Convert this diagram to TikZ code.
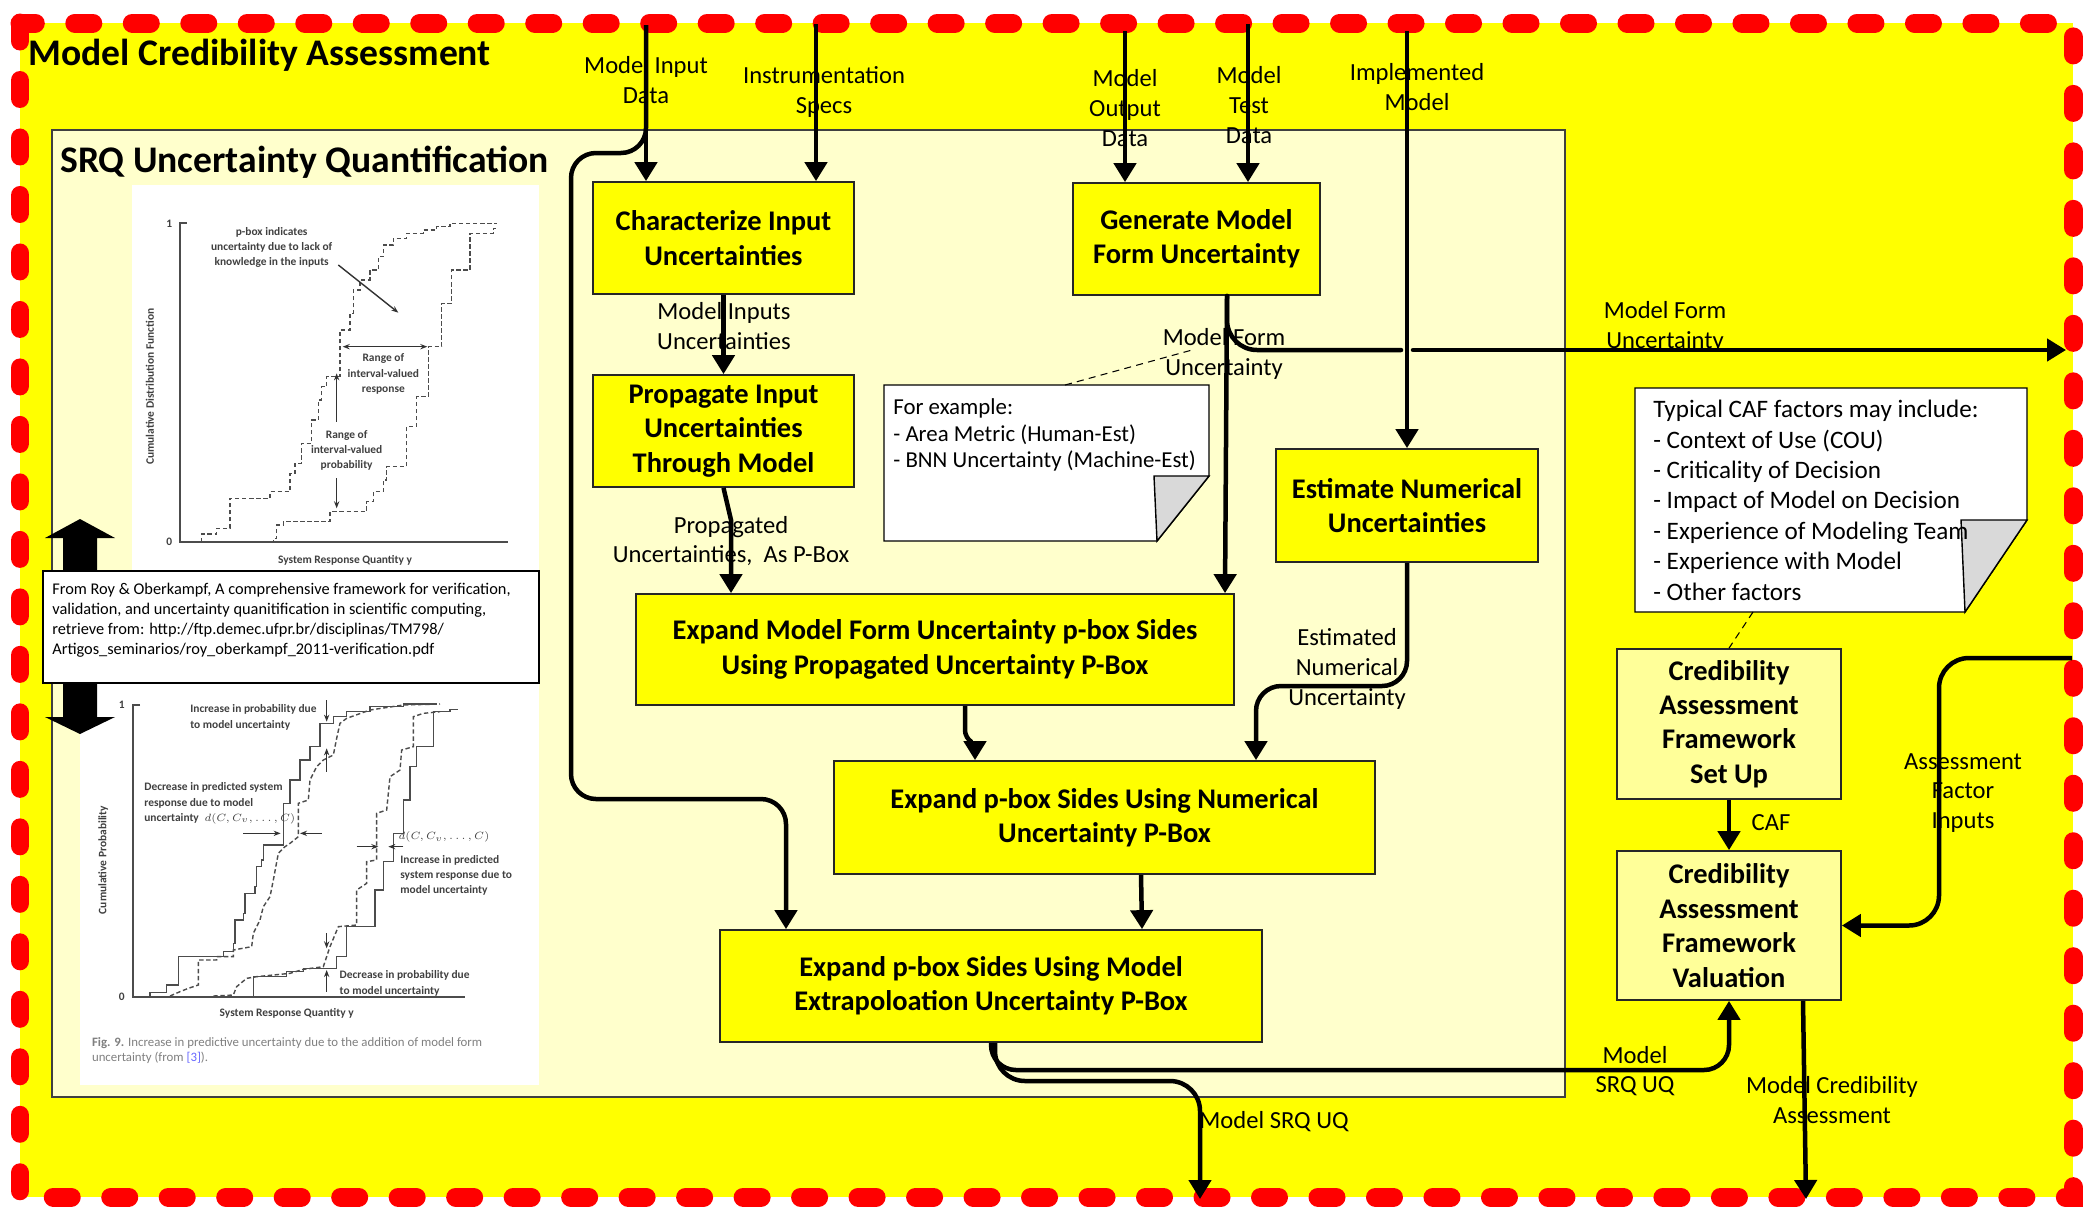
\documentclass[tikz,border=0pt]{standalone}
\usepackage{fontspec}
\setmainfont{Carlito}
\usetikzlibrary{arrows.meta}
\definecolor{boxyellow}{RGB}{255,255,0}
\definecolor{paleyellow}{RGB}{255,255,204}
\definecolor{cafyellow}{RGB}{255,255,153}
\definecolor{framered}{RGB}{255,0,0}
\definecolor{foldgray}{RGB}{217,217,217}
\tikzset{
  frame/.style={framered,line width=0.38cm,dash pattern=on 0.36cm off 0.79cm,line cap=round},
  flow/.style={line width=0.09cm,-{Triangle[length=0.38cm,width=0.44cm]}},
  wire/.style={line width=0.09cm,line cap=round},
  pbox/.style={draw=black!85,line width=1pt,fill=boxyellow,align=center,inner sep=0pt,font=\fontsize{16.2}{19.6}\selectfont\bfseries},
  cafbox/.style={pbox,fill=cafyellow},
  lbl/.style={align=center,inner sep=0pt,font=\fontsize{14}{17}\selectfont},
  note/.style={draw=black,line width=0.8pt,fill=white},
  notetxt/.style={align=left,inner sep=0pt,anchor=north west},
  callout/.style={line width=0.6pt,dash pattern=on 4pt off 3pt},
  title/.style={anchor=base west,inner sep=0pt,font=\fontsize{21.4}{25}\selectfont\bfseries},
  gtxt/.style={align=center,inner sep=0pt,text=black!75,font=\fontsize{6.5}{8.6}\selectfont\bfseries},
  gaxis/.style={black!70,line width=1pt},
  gcurve/.style={black!70,line width=0.8pt},
  gdash/.style={gcurve,dash pattern=on 2.5pt off 1.5pt},
  garrow/.style={black!80,line width=0.8pt,-{Stealth[length=4pt]}}
}
\begin{document}
\begin{tikzpicture}[x=0.02cm,y=-0.02cm]
\useasboundingbox (0,0) rectangle (2088,1211);
\fill[boxyellow] (20,23) rectangle (2073,1197);
\draw[frame] (20,23) rectangle (2073,1197);
\node[title] (mcaTitle) at (28,65) {Model Credibility Assessment};
\draw[draw=black!75,line width=1pt,fill=paleyellow] (52,130) rectangle (1565,1097);
\node[title] (srqTitle) at (60,172) {SRQ Uncertainty Quantification};

% p-box figure (top)
\fill[white] (132,185) rectangle (539,571);
\begin{scope}[shift={(130,180)},scale=1/3]
  \draw[gaxis] (170,130) -- (150,130) -- (150,1085) -- (1135,1085);
  \node[gtxt] (g1one) at (118,130) {1}; \node[gtxt] (g1zero) at (118,1085) {0};
  \draw[gdash] plot coordinates {(150,1085) (215,1085) (215,1062) (260,1062) (260,1045) (300,1045) (300,955) (420,955) (420,935) (480,935) (480,880) (495,880) (495,850) (515,850) (515,790) (545,790) (545,720) (565,720) (565,660) (575,660) (575,620) (590,620) (590,590) (630,590) (630,450) (660,450) (660,400) (670,400) (670,330) (690,330) (690,300) (720,300) (720,270) (745,270) (745,230) (760,230) (760,195) (790,195) (790,175) (830,175) (830,160) (880,160) (880,150) (920,150) (920,140) (960,140) (960,130) (1100,130)};
  \draw[gdash] plot coordinates {(360,1085) (430,1085) (430,1075) (440,1075) (440,1035) (460,1035) (460,1025) (600,1025) (600,995) (710,995) (710,965) (730,965) (730,935) (760,935) (760,900) (770,900) (770,860) (830,860) (830,740) (860,740) (860,650) (895,650) (895,500) (935,500) (935,370) (965,370) (965,270) (1020,270) (1020,160) (1090,160) (1090,145) (1100,145)};
  \draw[garrow] (625,255) -- (805,398);
  \draw[garrow,{Stealth[length=4pt]}-{Stealth[length=4pt]}] (638,500) -- (892,500);
  \draw[garrow] (620,725) -- (620,580); \draw[garrow] (620,895) -- (620,985);
  \node[gtxt] (g1a) at (425,203) {p-box indicates\\uncertainty due to lack of\\knowledge in the inputs};
  \node[gtxt] (g1b) at (760,582) {Range of\\interval-valued\\response};
  \node[gtxt] (g1c) at (650,812) {Range of\\interval-valued\\probability};
  \node[gtxt,rotate=90] (g1d) at (60,620) {Cumulative Distribution Function};
  \node[gtxt] (g1e) at (645,1140) {System Response Quantity y};
\end{scope}

% p-box figure (bottom)
\fill[white] (80,683) rectangle (539,1085);
\begin{scope}[shift={(70,680)},scale=1/3]
  \draw[gaxis] (210,75) -- (190,75) -- (190,950) -- (1185,950);
  \node[gtxt] (g2one) at (155,75) {1}; \node[gtxt] (g2zero) at (155,950) {0};
  \draw[gcurve] plot coordinates {(240,948) (240,938) (290,938) (290,915) (325,915) (325,830) (460,830) (460,815) (490,815) (490,790) (495,790) (495,720) (520,720) (520,700) (525,700) (525,640) (555,640) (555,620) (560,620) (560,560) (575,560) (575,540) (580,540) (580,495) (640,495) (640,370) (660,370) (660,300) (690,300) (690,240) (720,240) (720,200) (750,200) (750,130) (790,130) (790,110) (830,110) (830,95) (900,95) (900,80) (1000,80) (1000,72) (1100,72)};
  \draw[gdash] plot coordinates {(300,948) (330,935) (355,925) (385,915) (385,840) (440,840) (440,830) (490,830) (490,810) (545,800) (550,760) (570,720) (580,680) (600,650) (610,600) (625,520) (645,500) (660,490) (685,470) (685,370) (715,360) (720,300) (740,260) (760,240) (790,225) (800,175) (810,130) (830,115) (900,90) (1000,75) (1110,72)};
  \draw[gcurve] plot coordinates {(550,948) (550,890) (650,890) (650,875) (700,875) (700,865) (800,865) (800,830) (830,830) (830,740) (915,740) (915,630) (940,630) (940,545) (970,545) (970,460) (1000,460) (1000,360) (1020,360) (1020,260) (1040,260) (1040,200) (1090,200) (1090,95) (1140,95) (1140,88) (1165,88)};
  \draw[gdash] plot coordinates {(430,948) (490,945) (500,920) (530,895) (560,890) (660,880) (700,868) (760,860) (780,800) (805,740) (860,735) (860,630) (890,610) (890,545) (920,540) (920,400) (950,390) (960,290) (990,270) (995,210) (1030,200) (1030,110) (1060,100) (1110,95)};
  \draw[garrow] (770,60) -- (770,125); \draw[garrow] (770,275) -- (770,205);
  \draw[garrow] (520,460) -- (632,460); \draw[garrow] (755,460) -- (690,460);
  \draw[garrow] (860,500) -- (925,500); \draw[garrow] (1000,500) -- (955,500);
  \draw[garrow] (770,760) -- (770,805); \draw[garrow] (770,935) -- (770,870);
  \node[gtxt,anchor=west,align=left] (g2a) at (360,112) {Increase in probability due\\to model uncertainty};
  \node[gtxt,anchor=west,align=left] (g2b) at (222,370) {Decrease in predicted system\\response due to model\\uncertainty\enspace$d(C,C_v,\ldots,C)$};
  \node[gtxt,anchor=west] (g2c) at (985,470) {$d(C,C_v,\ldots,C)$};
  \node[gtxt,anchor=west,align=left] (g2d) at (990,585) {Increase in predicted\\system response due to\\model uncertainty};
  \node[gtxt,anchor=west,align=left] (g2e) at (808,910) {Decrease in probability due\\to model uncertainty};
  \node[gtxt,rotate=90] (g2f) at (100,540) {Cumulative Probability};
  \node[gtxt] (g2g) at (650,1000) {System Response Quantity y};
  \node[gtxt,anchor=north west,align=left,text=black!50,font=\fontsize{7.3}{8.6}\selectfont] (g2cap) at (65,1072) {\textbf{Fig. 9.} Increase in predictive uncertainty due to the addition of model form\\uncertainty (from \textcolor{blue!60}{[3]}).};
\end{scope}

\fill (80,519) -- (115,538) -- (97,538) -- (97,717) -- (115,717) -- (80,734) -- (45,717) -- (63,717) -- (63,538) -- (45,538) -- cycle;
\draw[note] (43,571) rectangle (539,683);
\node[notetxt,font=\fontsize{9.3}{11.3}\selectfont] (cite) at (52,583) {From Roy \& Oberkampf, A comprehensive framework for verification,\\validation, and uncertainty quanitification in scientific computing,\\retrieve from: http://ftp.demec.ufpr.br/disciplinas/TM798/\\Artigos\_seminarios/roy\_oberkampf\_2011-verification.pdf};

% process boxes
\node[pbox,minimum width=5.22cm,minimum height=2.24cm] (ciu) at (723.5,238) {Characterize Input\\Uncertainties};
\node[pbox,minimum width=5.22cm,minimum height=2.24cm] (piu) at (723.5,431) {Propagate Input\\Uncertainties\\Through Model};
\node[pbox,minimum width=4.94cm,minimum height=2.24cm] (gmf) at (1196.5,239) {Generate Model\\Form Uncertainty};
\node[pbox,minimum width=5.24cm,minimum height=2.26cm] (enu) at (1407,505.5) {Estimate Numerical\\Uncertainties};
\node[pbox,minimum width=11.96cm,minimum height=2.22cm] (emf) at (935,649.5) {Expand Model Form Uncertainty p-box Sides\\Using Propagated Uncertainty P-Box};
\node[pbox,minimum width=10.82cm,minimum height=2.26cm] (epn) at (1104.5,817.5) {Expand p-box Sides Using Numerical\\Uncertainty P-Box};
\node[pbox,minimum width=10.84cm,minimum height=2.24cm] (epm) at (991,986) {Expand p-box Sides Using Model\\Extrapoloation Uncertainty P-Box};
\node[cafbox,minimum width=4.48cm,minimum height=3cm] (csu) at (1729,724) {Credibility\\Assessment\\Framework\\Set Up};
\node[cafbox,minimum width=4.48cm,minimum height=2.98cm] (cva) at (1729,925.5) {Credibility\\Assessment\\Framework\\Valuation};

% notes
\draw[note] (884,385) -- (1209,385) -- (1209,476) -- (1157,541) -- (884,541) -- cycle;
\draw[note,fill=foldgray] (1154,476) -- (1209,476) -- (1157,541) -- cycle;
\node[notetxt,font=\fontsize{13}{15.3}\selectfont] (exNote) at (893,398) {For example:\\- Area Metric (Human-Est)\\- BNN Uncertainty (Machine-Est)};
\draw[note] (1635,388) -- (2027,388) -- (2027,520) -- (1965,612) -- (1635,612) -- cycle;
\draw[note,fill=foldgray] (1961,520) -- (2027,520) -- (1965,612) -- cycle;
\node[notetxt,font=\fontsize{14.3}{17.3}\selectfont] (cafNote) at (1653,400) {Typical CAF factors may include:\\- Context of Use (COU)\\- Criticality of Decision\\- Impact of Model on Decision\\- Experience of Modeling Team\\- Experience with Model\\- Other factors};

% free ends
\coordinate (inData) at (646,25);
\coordinate (inSpecs) at (816,24);
\coordinate (outData) at (1125,31);
\coordinate (testData) at (1248,24);
\coordinate (implModel) at (1407,31);
\coordinate (mfOut) at (2066,350);
\coordinate (factorIn) at (2072,658);
\coordinate (srqOut) at (1200,1199);
\coordinate (mcaOut) at (1806,1199);
\coordinate (exTop) at (1065,385);
\coordinate (mfTip) at (1192,350);
\coordinate (cafTip) at (1753,612);

% connectors
\draw[flow] (inData) -- (inData |- ciu.north);
\draw[flow,rounded corners=0.5cm] (inData) -- (646,153) -- (571,153) -- (571,799) -- (786,799) -- (epm.north -| 786,0);
\draw[flow] (inSpecs) -- (inSpecs |- ciu.north);
\draw[flow] (ciu) -- (piu);
\draw[flow] (piu.south) -- (731,520) -- (emf.north -| 731,0);
\draw[flow] (outData) -- (outData |- gmf.north);
\draw[flow] (testData) -- (testData |- gmf.north);
\draw[flow] (implModel) -- (enu.north);
\draw[wire,rounded corners=0.6cm] (gmf.south -| 1227,0) |- (1401,350);
\draw[flow,line cap=round] (1413,350) -- (mfOut);
\draw[flow] (gmf.south -| 1227,0) -- (emf.north -| 1225,0);
\draw[flow,rounded corners=0.5cm] (enu.south) |- (1256,686) -- (epn.north -| 1256,0);
\draw[flow,rounded corners=0.15cm] (emf.south -| 965,0) -- (965,738) -- (975,744) -- (epn.north -| 975,0);
\draw[flow] (epn.south -| 1141,0) -- (epm.north -| 1142,0);
\draw[flow,rounded corners=0.5cm] (epm.south -| 991,0) |- (1729,1070) -- (cva.south);
\draw[flow,rounded corners=0.6cm] (epm.south -| 995,0) |- (1200,1081) -- (srqOut);
\draw[flow] (csu) -- (cva);
\draw[flow,rounded corners=0.6cm] (factorIn) -| (1939,925.5) -- (cva.east);
\draw[flow] (cva.south -| 1803,0) -- (mcaOut);
\draw[callout] (exTop) -- (mfTip);
\draw[callout] (cafTip) -- (csu.north);

% labels
\node[lbl] (inDataLbl) at (646,80) {Model Input\\Data};
\node[lbl] (specsLbl) at (824,92) {Instrumentation\\Specs};
\node[lbl] (outDataLbl) at (1125,108) {Model\\Output\\Data};
\node[lbl] (testDataLbl) at (1249,105) {Model\\Test\\Data};
\node[lbl] (implLbl) at (1417,87) {Implemented\\Model};
\node[lbl] (inUncLbl) at (724,326) {Model Inputs\\Uncertainties};
\node[lbl] (propLbl) at (731,541) {Propagated\\Uncertainties,~~As P-Box};
\node[lbl] (mfLbl) at (1224,354) {Model Form\\Uncertainty};
\node[lbl] (mfOutLbl) at (1665,327) {Model Form\\Uncertainty};
\node[lbl] (numLbl) at (1347,669) {Estimated\\Numerical\\Uncertainty};
\node[lbl] (cafLbl) at (1771,823) {CAF};
\node[lbl] (factorLbl) at (1963,793) {Assessment\\Factor\\Inputs};
\node[lbl] (srqLbl) at (1635,1071) {Model\\SRQ UQ};
\node[lbl] (srqOutLbl) at (1274,1122) {Model SRQ UQ};
\node[lbl] (mcaLbl) at (1832,1100) {Model Credibility\\Assessment};
\end{tikzpicture}
\end{document}
